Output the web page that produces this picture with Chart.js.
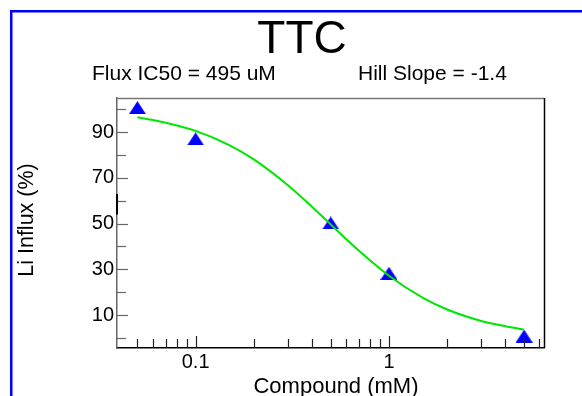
<!DOCTYPE html>
<html>
<head>
<meta charset="utf-8">
<title>TTC</title>
<script src="https://cdn.jsdelivr.net/npm/chart.js@4"></script>
<style>
  html, body { margin: 0; padding: 0; background: #fff; overflow: hidden; }
  #dr { display: block; }
</style>
</head>
<body>
<canvas id="dr" width="582" height="396"></canvas>
<script>
// measured points (compound dose in mM, Li influx in %)
const doseMM = [0.05, 0.1, 0.5, 1, 5];
const influxPct = [100.8, 87.1, 50.3, 28.3, 0.8];

// fitted curve
const fitDose = [0.05, 0.07, 0.1, 0.15, 0.2, 0.3, 0.4, 0.5, 0.7, 1, 1.5, 2, 3, 4, 5];
const fitPct = [96.6, 94.2, 90.6, 84.3, 78.1, 66.8, 57.4, 49.6, 38.1, 27.2, 17.5, 12.4, 7.4, 5.1, 3.6];

// tick values
const yTicks = [0, 10, 20, 30, 40, 50, 60, 70, 80, 90, 100];
const yLabels = [10, 30, 50, 70, 90];
const xTicks = [0.05, 0.06, 0.07, 0.08, 0.09, 0.1, 0.2, 0.3, 0.4, 0.5, 0.6, 0.7, 0.8, 0.9, 1, 2, 3, 4, 5, 6];
const xLabels = [0.1, 1];

const titleText = "TTC";
const icText = "Flux IC50 = 495 uM";
const slopeText = "Hill Slope = -1.4";
const xTitle = "Compound (mM)";
const yTitle = "Li Influx (%)";

const FONT = '"Liberation Sans", Arial, Helvetica, sans-serif';

// triangle marker like the root one (wider than equilateral)
function makeTriangle() {
  const c = document.createElement("canvas");
  c.width = 17;
  c.height = 13;
  const g = c.getContext("2d");
  g.fillStyle = "#0000ff";
  g.beginPath();
  g.moveTo(0, 13);
  g.lineTo(17, 13);
  g.lineTo(8.5, 0);
  g.closePath();
  g.fill();
  return c;
}

function toXY(xs, ys) {
  return xs.map((x, i) => ({ x: x, y: ys[i] }));
}

// frame, inner ticks and all the texts
const decorPlugin = {
  id: "decor",
  beforeDraw(chart) {
    const ctx = chart.ctx;
    ctx.save();
    ctx.fillStyle = "#fff";
    ctx.fillRect(0, 0, chart.width, chart.height);
    // blue pad border
    ctx.strokeStyle = "#0000ff";
    ctx.lineWidth = 2.5;
    ctx.strokeRect(11.25, 11.25, chart.width + 20, chart.height + 20);
    ctx.restore();
  },
  afterDraw(chart) {
    const ctx = chart.ctx;
    const a = chart.chartArea;
    const xs = chart.scales.x;
    const ys = chart.scales.y;
    ctx.save();

    // top and right side of frame
    ctx.lineWidth = 1.5;
    ctx.strokeStyle = "#777";
    ctx.beginPath();
    ctx.moveTo(a.left, a.top + 0.5);
    ctx.lineTo(a.right, a.top + 0.5);
    ctx.stroke();
    ctx.strokeStyle = "#000";
    ctx.beginPath();
    ctx.moveTo(a.right + 0.5, a.top);
    ctx.lineTo(a.right + 0.5, a.bottom);
    ctx.stroke();

    // y ticks inside the frame
    ctx.strokeStyle = "#666";
    ctx.lineWidth = 1.2;
    yTicks.forEach((v) => {
      const py = Math.round(ys.getPixelForValue(v)) + 0.5;
      const len = yLabels.includes(v) ? 11 : 9;
      ctx.beginPath();
      ctx.moveTo(a.left, py);
      ctx.lineTo(a.left + len, py);
      ctx.stroke();
    });

    // little dark mark on the y axis
    ctx.strokeStyle = "#000";
    ctx.lineWidth = 2;
    ctx.beginPath();
    ctx.moveTo(a.left, ys.getPixelForValue(63));
    ctx.lineTo(a.left, ys.getPixelForValue(54));
    ctx.stroke();

    // x ticks inside the frame
    ctx.strokeStyle = "#222";
    ctx.lineWidth = 1.2;
    xTicks.forEach((v) => {
      const px = Math.round(xs.getPixelForValue(v)) + 0.5;
      const len = xLabels.includes(v) ? 12 : 9;
      ctx.beginPath();
      ctx.moveTo(px, a.bottom);
      ctx.lineTo(px, a.bottom - len);
      ctx.stroke();
    });

    // texts
    ctx.fillStyle = "#000";
    ctx.textBaseline = "alphabetic";
    ctx.textAlign = "center";
    ctx.font = "46px " + FONT;
    ctx.fillText(titleText, 302, 53);

    ctx.textAlign = "left";
    ctx.font = "21px " + FONT;
    ctx.fillText(icText, 92, 80);
    ctx.fillText(slopeText, 358, 80);

    ctx.textAlign = "center";
    ctx.font = "22px " + FONT;
    ctx.fillText(xTitle, 336, 393);

    ctx.font = "21.5px " + FONT;
    ctx.translate(33, 220);
    ctx.rotate(-Math.PI / 2);
    ctx.fillText(yTitle, 0, 0);
    ctx.restore();
  },
};

function showChart() {
  const data = {
    datasets: [
      {
        label: "fit",
        data: toXY(fitDose, fitPct),
        showLine: true,
        borderColor: "#00e600",
        borderWidth: 2,
        pointRadius: 0,
        cubicInterpolationMode: "monotone",
        fill: false,
      },
      {
        label: "data",
        data: toXY(doseMM, influxPct),
        showLine: false,
        pointStyle: makeTriangle(),
        pointRadius: 9,
        backgroundColor: "#0000ff",
        borderColor: "#0000ff",
      },
    ],
  };

  const config = {
    type: "scatter",
    data: data,
    plugins: [decorPlugin],
    options: {
      responsive: false,
      animation: false,
      events: [],
      layout: { padding: { top: 98, right: 38, left: 0, bottom: 0 } },
      plugins: {
        legend: { display: false },
        tooltip: { enabled: false },
        title: { display: false },
      },
      scales: {
        x: {
          type: "logarithmic",
          min: 0.0392,
          max: 6.34,
          afterBuildTicks: (s) => {
            s.ticks = xTicks.map((v) => ({ value: v }));
          },
          afterFit: (s) => {
            s.height = 48;
          },
          grid: { display: false, drawTicks: false },
          border: { display: true, color: "#000", width: 1.5 },
          ticks: {
            autoSkip: false,
            maxRotation: 0,
            padding: 2,
            color: "#000",
            font: { family: FONT, size: 20 },
            callback: (v) => (xLabels.includes(v) ? String(v) : ""),
          },
        },
        y: {
          min: -4.45,
          max: 105,
          afterBuildTicks: (s) => {
            s.ticks = yTicks.map((v) => ({ value: v }));
          },
          afterFit: (s) => {
            s.width = 117;
          },
          grid: { display: false, drawTicks: false },
          border: { display: true, color: "#666", width: 1.5 },
          ticks: {
            autoSkip: false,
            padding: 3,
            color: "#000",
            font: { family: FONT, size: 20 },
            callback: (v) => (yLabels.includes(v) ? String(v) : ""),
          },
        },
      },
    },
  };

  const myChart = new Chart(document.getElementById("dr"), config);
}

window.onload = () => {
  showChart();
};
</script>
</body>
</html>
